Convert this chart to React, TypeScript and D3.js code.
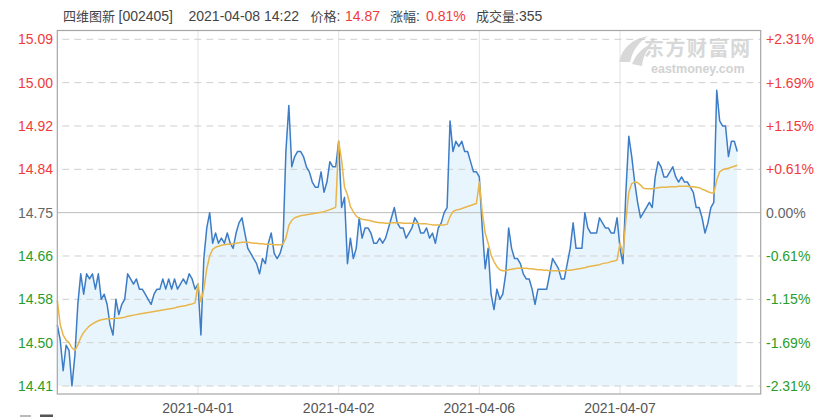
import React from "react";
import * as d3 from "d3";

// ---- data ----
const dayLabels = ["2021-04-01", "2021-04-02", "2021-04-06", "2021-04-07"];
const leftLabels = ["14.41", "14.50", "14.58", "14.66", "14.75", "14.84", "14.92", "15.00", "15.09"];
const rightLabels = ["-2.31%", "-1.69%", "-1.15%", "-0.61%", "0.00%", "+0.61%", "+1.15%", "+1.69%", "+2.31%"];
const prevClose = 14.75;
const yMin = 14.41;
const yMax = 15.09;

const price1 = [14.53, 14.50, 14.44, 14.49, 14.48, 14.41, 14.47, 14.57, 14.63, 14.59, 14.63, 14.62, 14.63, 14.60, 14.63, 14.58, 14.59, 14.57, 14.53, 14.51, 14.58, 14.55, 14.57, 14.58, 14.63, 14.62, 14.61, 14.62, 14.60, 14.60, 14.59, 14.58, 14.57, 14.59, 14.60, 14.60, 14.62, 14.60, 14.62, 14.60, 14.62, 14.60, 14.61, 14.62, 14.61, 14.63, 14.62, 14.60];
const price2 = [14.61, 14.51, 14.66, 14.72, 14.75, 14.69, 14.71, 14.69, 14.70, 14.69, 14.71, 14.69, 14.68, 14.71, 14.73, 14.74, 14.71, 14.68, 14.67, 14.66, 14.65, 14.63, 14.66, 14.65, 14.69, 14.71, 14.67, 14.66, 14.67, 14.69, 14.87, 14.96, 14.84, 14.86, 14.87, 14.87, 14.86, 14.84, 14.83, 14.81, 14.80, 14.80, 14.83, 14.79, 14.81, 14.85, 14.84, 14.84];
const price3 = [14.89, 14.76, 14.78, 14.65, 14.70, 14.66, 14.68, 14.74, 14.70, 14.72, 14.72, 14.71, 14.69, 14.69, 14.70, 14.69, 14.70, 14.72, 14.74, 14.76, 14.73, 14.72, 14.72, 14.70, 14.71, 14.72, 14.74, 14.73, 14.71, 14.71, 14.72, 14.70, 14.71, 14.69, 14.72, 14.73, 14.75, 14.76, 14.93, 14.87, 14.89, 14.88, 14.89, 14.87, 14.87, 14.85, 14.83, 14.83];
const price4 = [14.82, 14.72, 14.64, 14.68, 14.59, 14.56, 14.60, 14.58, 14.59, 14.63, 14.72, 14.68, 14.66, 14.66, 14.65, 14.63, 14.62, 14.62, 14.60, 14.57, 14.60, 14.60, 14.60, 14.60, 14.63, 14.66, 14.65, 14.64, 14.62, 14.62, 14.65, 14.68, 14.73, 14.68, 14.68, 14.68, 14.75, 14.72, 14.71, 14.71, 14.71, 14.74, 14.73, 14.72, 14.72, 14.71, 14.71, 14.74];
const price5 = [14.68, 14.65, 14.79, 14.90, 14.86, 14.81, 14.77, 14.74, 14.75, 14.76, 14.77, 14.76, 14.82, 14.85, 14.84, 14.82, 14.82, 14.83, 14.84, 14.82, 14.81, 14.82, 14.81, 14.81, 14.80, 14.79, 14.76, 14.76, 14.74, 14.71, 14.73, 14.76, 14.77, 14.99, 14.93, 14.92, 14.92, 14.86, 14.89, 14.89, 14.87];

const avg1 = [14.578, 14.53, 14.51, 14.50, 14.495, 14.485, 14.48, 14.49, 14.505, 14.515, 14.522, 14.528, 14.532, 14.535, 14.538, 14.540, 14.541, 14.542, 14.542, 14.542, 14.543, 14.543, 14.544, 14.545, 14.547, 14.548, 14.549, 14.550, 14.551, 14.552, 14.553, 14.554, 14.555, 14.556, 14.557, 14.558, 14.559, 14.560, 14.561, 14.562, 14.563, 14.565, 14.566, 14.567, 14.568, 14.570, 14.571, 14.573];
const avg2 = [14.61, 14.575, 14.60, 14.64, 14.665, 14.678, 14.682, 14.684, 14.686, 14.687, 14.688, 14.688, 14.689, 14.690, 14.691, 14.692, 14.692, 14.692, 14.691, 14.690, 14.690, 14.689, 14.689, 14.688, 14.688, 14.688, 14.687, 14.687, 14.687, 14.688, 14.700, 14.725, 14.735, 14.740, 14.742, 14.744, 14.745, 14.746, 14.747, 14.748, 14.749, 14.750, 14.751, 14.752, 14.754, 14.756, 14.758, 14.761];
const avg3 = [14.89, 14.853, 14.80, 14.785, 14.762, 14.752, 14.743, 14.739, 14.737, 14.736, 14.735, 14.734, 14.732, 14.731, 14.730, 14.730, 14.729, 14.729, 14.730, 14.730, 14.730, 14.730, 14.729, 14.729, 14.729, 14.729, 14.729, 14.729, 14.728, 14.728, 14.728, 14.727, 14.726, 14.726, 14.726, 14.726, 14.726, 14.727, 14.742, 14.752, 14.755, 14.756, 14.758, 14.760, 14.762, 14.764, 14.766, 14.768];
const avg4 = [14.81, 14.75, 14.71, 14.69, 14.667, 14.654, 14.644, 14.638, 14.636, 14.636, 14.638, 14.639, 14.640, 14.641, 14.641, 14.641, 14.641, 14.640, 14.640, 14.639, 14.638, 14.638, 14.637, 14.637, 14.636, 14.636, 14.636, 14.636, 14.636, 14.636, 14.637, 14.637, 14.638, 14.639, 14.640, 14.641, 14.642, 14.644, 14.645, 14.646, 14.647, 14.648, 14.650, 14.651, 14.652, 14.654, 14.655, 14.657];
const avg5 = [14.69, 14.67, 14.735, 14.79, 14.807, 14.81, 14.809, 14.804, 14.798, 14.797, 14.797, 14.797, 14.798, 14.799, 14.800, 14.800, 14.800, 14.801, 14.801, 14.801, 14.802, 14.802, 14.802, 14.802, 14.801, 14.801, 14.800, 14.799, 14.796, 14.794, 14.791, 14.789, 14.788, 14.814, 14.830, 14.834, 14.836, 14.837, 14.839, 14.841, 14.843];

const priceDays = [price1, price2, price3, price4, price5];
const avgDays = [avg1, avg2, avg3, avg4, avg5];

// ---- layout ----
const W = 820, H = 417;
const PL = 57.3, PR = 760.7, PT = 30.5, PB = 394;
const GY_TOP = 39.3, GY_BOT = 386;
const MIN_PER_DAY = 240, STEP = 5, DAYS = 5;

const RED = "#f23a3a", GREEN = "#2a9d2a", GREY = "#666";
const FONT = "'Liberation Sans', Arial, 'Noto Sans CJK SC', sans-serif";
const CJK = "'Noto Sans CJK SC', 'Liberation Sans', sans-serif";

type Pt = { t: number; v: number };
function toPoints(days: number[][]): Pt[] {
  const out: Pt[] = [];
  days.forEach((arr, d) => arr.forEach((v, i) => out.push({ t: d * MIN_PER_DAY + i * STEP, v })));
  return out;
}

export default function App() {
  const x = d3.scaleLinear().domain([0, DAYS * MIN_PER_DAY]).range([PL, PR]);
  const y = d3.scaleLinear().domain([yMin, yMax]).range([GY_BOT, GY_TOP]);
  const prices = toPoints(priceDays);
  const avgs = toPoints(avgDays);

  const line = d3.line<Pt>().x((d) => x(d.t)).y((d) => y(d.v));
  const area = d3.area<Pt>().x((d) => x(d.t)).y0(y(yMin)).y1((d) => y(d.v));

  const tickVals = leftLabels.map((_, k) => yMin + (k * (yMax - yMin)) / (leftLabels.length - 1));
  const colorFor = (k: number) => (k > 4 ? RED : k < 4 ? GREEN : GREY);
  const bounds = d3.range(1, DAYS).map((d) => x(d * MIN_PER_DAY));

  return (
    <svg width={W} height={H} style={{ position: "absolute", left: 0, top: 0, background: "#fff" }} fontFamily={FONT}>
      {/* title */}
      <text y={20.5} fontSize={14} fill="#444">
        <tspan x={63} fontFamily={CJK} fontSize={13}>四维图新</tspan>
        <tspan x={118.5}>[002405]</tspan>
        <tspan x={188.5}>2021-04-08 14:22</tspan>
        <tspan x={310.5} fontFamily={CJK} fontSize={13}>价格</tspan>
        <tspan>:</tspan>
        <tspan x={345} fill={RED}>14.87</tspan>
        <tspan x={390} fontFamily={CJK} fontSize={13}>涨幅</tspan>
        <tspan>:</tspan>
        <tspan x={426} fill={RED}>0.81%</tspan>
        <tspan x={476} fontFamily={CJK} fontSize={13}>成交量</tspan>
        <tspan>:355</tspan>
      </text>

      {/* watermark */}
      <g fill="#d8d8d8">
        <path d="M619,62 C622,48 632,39 648,36 C638,43 633,50 630,62 Z" />
        <path d="M632,64 C636,54 643,47 652,44 C646,51 643,57 642,66 Z" />
        <text x={644} y={55.5} fontFamily={CJK} fontSize={20} fontWeight="bold" letterSpacing={1.5}>东方财富网</text>
        <text x={651} y={73} fontSize={12.5} fontWeight="bold" fill="#d2d2d2">eastmoney.com</text>
      </g>

      {/* vertical day grid */}
      {bounds.map((bx, i) => (
        <line key={"v" + i} x1={bx} x2={bx} y1={PT} y2={PB} stroke="#e3e3e3" strokeWidth={1} />
      ))}

      {/* area */}
      <path d={area(prices) || ""} fill="#e9f5fd" />

      {/* horizontal grid */}
      {tickVals.map((v, k) => (
        <line
          key={"h" + k}
          x1={PL}
          x2={PR}
          y1={y(v)}
          y2={y(v)}
          stroke={k === 4 ? "#bdbdbd" : "#cfcfcf"}
          strokeWidth={1}
          strokeDasharray={k === 4 ? undefined : "7,5"}
          strokeDashoffset={-5}
        />
      ))}

      {/* lines */}
      <path d={line(prices) || ""} fill="none" stroke="#3d7cc6" strokeWidth={1.5} strokeLinejoin="round" />
      <path d={line(avgs) || ""} fill="none" stroke="#e8b64a" strokeWidth={1.5} strokeLinejoin="round" />

      {/* frame */}
      <rect x={PL} y={PT} width={PR - PL} height={PB - PT} fill="none" stroke="#a6a6a6" strokeWidth={1.2} />

      {/* left axis */}
      {leftLabels.map((s, k) => (
        <text key={"l" + k} x={53} y={y(tickVals[k]) + 5} textAnchor="end" fontSize={14} fill={colorFor(k)}>
          {s}
        </text>
      ))}
      {/* right axis */}
      {rightLabels.map((s, k) => (
        <text key={"r" + k} x={766} y={y(tickVals[k]) + 5} fontSize={14} fill={colorFor(k)}>
          {s}
        </text>
      ))}
      {/* date labels */}
      {dayLabels.map((s, i) => (
        <text key={"d" + i} x={bounds[i]} y={412.5} textAnchor="middle" fontSize={14} fill="#555">
          {s}
        </text>
      ))}

      {/* cut-off legend stub */}
      <rect x={20} y={415} width={11} height={2} fill="#bbb" />
      <rect x={40} y={414.5} width={13} height={2.5} fill="#555" />
    </svg>
  );
}
